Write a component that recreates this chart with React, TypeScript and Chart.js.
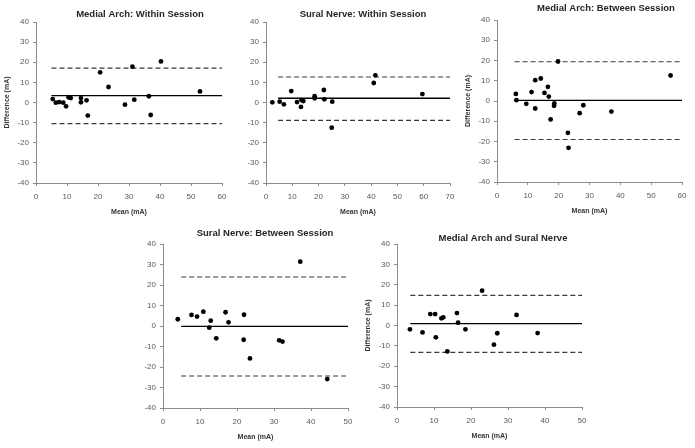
import React, { useEffect, useRef } from "react";
import { Chart, registerables } from "chart.js";

Chart.register(...registerables);

// ---------- DATA ----------
const titles = [
  "Medial Arch: Within Session",
  "Sural Nerve: Within Session",
  "Medial Arch: Between Session",
  "Sural Nerve: Between Session",
  "Medial Arch and Sural Nerve",
];
const xMaxes = [60, 70, 60, 50, 50];
const yMin = -40;
const yMax = 40;
const xTitle = "Mean (mA)";
const yTitle = "Difference (mA)";
const showYTitle = [true, false, true, false, true];

// Panel 1: Medial Arch within session
const p1Mean = [5.4, 6.4, 7.5, 8.8, 9.7, 10.5, 11.2, 14.5, 14.5, 16.3, 16.7, 20.7, 23.4, 28.7, 31.1, 31.7, 36.4, 37.0, 40.3, 52.9];
const p1Diff = [1.7, -0.1, 0.2, -0.1, -1.9, 2.6, 2.2, 2.2, 0.1, 1.1, -6.5, 15.0, 7.7, -1.1, 17.8, 1.4, 3.1, -6.2, 20.4, 5.5];
const p1Limits = [-10.5, 3.4, 17.1]; // lower, bias, upper
const p1Range = [5.0, 60];

// Panel 2: Sural Nerve within session
const p2Mean = [2.4, 5.2, 6.8, 9.6, 11.8, 13.3, 13.5, 14.2, 18.5, 18.5, 22.0, 22.2, 25.2, 25.0, 41.0, 41.6, 59.5];
const p2Diff = [0.1, 0.4, -0.9, 5.7, 0.2, -2.2, 1.2, 0.7, 3.1, 2.1, 6.2, 1.6, 0.4, -12.5, 9.7, 13.5, 4.2];
const p2Limits = [-8.9, 2.1, 12.7];
const p2Range = [4.6, 70];

// Panel 3: Medial Arch between session
const p3Mean = [6.1, 6.3, 9.5, 11.2, 12.4, 12.4, 14.2, 15.4, 16.5, 16.8, 17.4, 18.6, 18.5, 19.8, 23.0, 23.2, 26.8, 28.0, 37.1, 56.3];
const p3Diff = [3.5, 0.4, -1.4, 4.4, 10.3, -3.7, 11.1, 4.0, 7.0, 2.2, -9.1, -1.2, -2.4, 19.5, -15.7, -23.1, -6.0, -2.1, -5.2, 12.6];
const p3Limits = [-19.0, 0.3, 19.4];
const p3Range = [5.7, 60];

// Panel 4: Sural Nerve between session
const p4Mean = [4.0, 7.7, 9.2, 10.9, 12.9, 12.5, 14.4, 16.9, 17.7, 21.9, 21.8, 23.5, 31.4, 32.3, 37.1, 44.4];
const p4Diff = [3.3, 5.4, 4.6, 7.0, 2.6, -0.8, -6.0, 6.7, 1.8, 5.5, -6.7, -15.8, -7.0, -7.6, 31.4, -25.9];
const p4Limits = [-24.4, -0.2, 23.9];
const p4Range = [4.9, 50];

// Panel 5: Medial Arch and Sural Nerve
const p5Mean = [3.5, 6.9, 9.0, 10.3, 10.5, 12.0, 12.5, 13.6, 16.2, 16.5, 18.5, 23.0, 26.2, 27.1, 32.3, 38.0];
const p5Diff = [-1.9, -3.4, 5.6, 5.6, -5.8, 3.5, 4.0, -12.7, 6.1, 1.4, -1.9, 17.1, -9.4, -3.8, 5.2, -3.7];
const p5Limits = [-13.2, 0.9, 14.8];
const p5Range = [3.6, 50];

const means = [p1Mean, p2Mean, p3Mean, p4Mean, p5Mean];
const diffs = [p1Diff, p2Diff, p3Diff, p4Diff, p5Diff];
const limits = [p1Limits, p2Limits, p3Limits, p4Limits, p5Limits];
const ranges = [p1Range, p2Range, p3Range, p4Range, p5Range];

// ---------- LAYOUT (plot-area boxes & title anchors, page pixels) ----------
const areas = [
  { l: 36, t: 22, r: 222, b: 183, tx: 140, ty: 14 },
  { l: 266, t: 22, r: 450, b: 183, tx: 363, ty: 14 },
  { l: 497, t: 20, r: 682, b: 182, tx: 606, ty: 8.5 },
  { l: 163, t: 244, r: 348, b: 408, tx: 265, ty: 233.5 },
  { l: 397, t: 244, r: 582, b: 407, tx: 503, ty: 238.5 },
];
const Y_AXIS_W = 36;
const X_AXIS_H = 36;
const TOP_PAD = 22;
const RIGHT_PAD = 8;

const FONT = '"Liberation Sans", Arial, sans-serif';

const titlePlugin = {
  id: "panelTitle",
  afterDraw(chart: any, _args: any, opts: any) {
    const ctx = chart.ctx;
    ctx.save();
    ctx.font = `bold 9.5px ${FONT}`;
    ctx.fillStyle = "#262626";
    ctx.textAlign = "center";
    ctx.textBaseline = "middle";
    ctx.fillText(opts.text, opts.x, opts.y);
    ctx.restore();
  },
};

function Panel({ idx }: { idx: number }) {
  const ref = useRef<HTMLCanvasElement | null>(null);
  const a = areas[idx];
  const left = a.l - Y_AXIS_W;
  const top = a.t - TOP_PAD;
  const width = a.r - a.l + Y_AXIS_W + RIGHT_PAD;
  const height = a.b - a.t + TOP_PAD + X_AXIS_H;

  useEffect(() => {
    if (!ref.current) return;
    const pts = means[idx].map((m, i) => ({ x: m, y: diffs[idx][i] }));
    const [lo, bias, hi] = limits[idx];
    const [x0, x1] = ranges[idx];
    const lineDs = (y: number, dashed: boolean) => ({
      type: "line" as const,
      data: [
        { x: x0, y },
        { x: x1, y },
      ],
      borderColor: dashed ? "#3a3a3a" : "#000000",
      borderWidth: dashed ? 1.1 : 1.4,
      borderDash: dashed ? [5, 3] : [],
      pointRadius: 0,
      showLine: true,
      fill: false,
    });
    const chart = new Chart(ref.current, {
      type: "scatter",
      data: {
        datasets: [
          {
            data: pts,
            pointRadius: 2.4,
            pointBackgroundColor: "#000000",
            pointBorderWidth: 0,
            backgroundColor: "#000000",
          } as any,
          lineDs(bias, false),
          lineDs(hi, true),
          lineDs(lo, true),
        ],
      },
      options: {
        animation: false,
        responsive: false,
        events: [],
        layout: { padding: { top: TOP_PAD, right: RIGHT_PAD, left: 0, bottom: 0 } },
        plugins: {
          legend: { display: false },
          tooltip: { enabled: false },
          panelTitle: { text: titles[idx], x: a.tx - left, y: a.ty - top },
        } as any,
        scales: {
          x: {
            type: "linear",
            min: 0,
            max: xMaxes[idx],
            afterFit: (axis: any) => {
              axis.height = X_AXIS_H;
              axis.paddingLeft = 0;
              axis.paddingRight = 0;
            },
            ticks: {
              stepSize: 10,
              color: "#595959",
              font: { size: 8, family: FONT },
              padding: 6,
              maxRotation: 0,
            },
            grid: {
              drawOnChartArea: false,
              drawTicks: true,
              tickLength: 3,
              color: "#8c8c8c",
            },
            border: { display: true, color: "#8c8c8c", width: 1 },
            title: {
              display: true,
              text: xTitle,
              color: "#333333",
              font: { size: 7, weight: "bold", family: FONT },
              padding: { top: 0, bottom: 3 },
            },
          },
          y: {
            type: "linear",
            min: yMin,
            max: yMax,
            afterFit: (axis: any) => {
              axis.width = Y_AXIS_W;
              axis.paddingTop = 0;
              axis.paddingBottom = 0;
            },
            ticks: {
              stepSize: 10,
              color: "#595959",
              font: { size: 8, family: FONT },
              padding: 4,
            },
            grid: {
              drawOnChartArea: false,
              drawTicks: true,
              tickLength: 3,
              color: "#8c8c8c",
            },
            border: { display: true, color: "#8c8c8c", width: 1 },
            title: {
              display: showYTitle[idx],
              text: yTitle,
              color: "#333333",
              font: { size: 7, weight: "bold", family: FONT },
              padding: { top: 3, bottom: 0 },
            },
          },
        },
      } as any,
      plugins: [titlePlugin],
    });
    return () => chart.destroy();
  }, [idx]);

  return (
    <canvas
      ref={ref}
      width={width}
      height={height}
      style={{ position: "absolute", left, top, width, height }}
    />
  );
}

export default function App() {
  return (
    <div
      style={{
        position: "absolute",
        left: 0,
        top: 0,
        width: 695,
        height: 448,
        background: "#ffffff",
        overflow: "hidden",
      }}
    >
      {[0, 1, 2, 3, 4].map((i) => (
        <Panel key={i} idx={i} />
      ))}
    </div>
  );
}
